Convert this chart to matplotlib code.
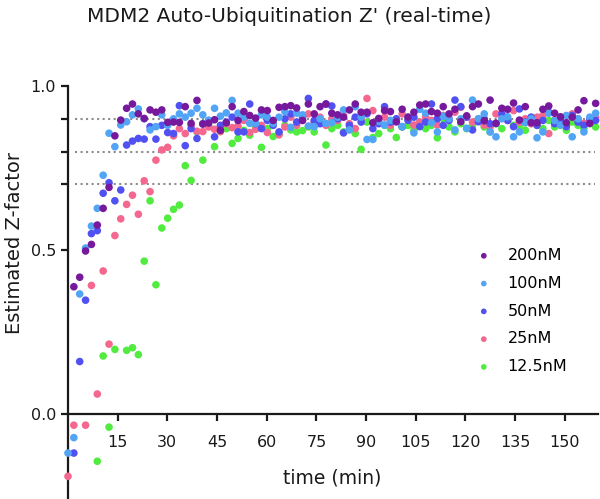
import numpy as np
import matplotlib
matplotlib.use("Agg")
import matplotlib.pyplot as plt

nan = np.nan

# read interval (min) and number of reads
interval = 1.77
n_reads = 91
time = interval * np.arange(n_reads)

labels = ["200nM", "100nM", "50nM", "25nM", "12.5nM"]
colors = ["#76199c", "#52a4f4", "#5151f2", "#f4688f", "#52ec41"]

z_200 = [nan, 0.388, 0.417, 0.497, 0.517, 0.576, 0.627, 0.691, 0.848, 0.896,
         0.932, 0.945, 0.915, 0.901, 0.927, 0.920, 0.927, 0.889, 0.890, 0.889,
         0.937, 0.886, 0.956, 0.884, 0.887, 0.897, 0.865, 0.888, 0.937, 0.895,
         0.922, 0.910, 0.902, 0.927, 0.925, 0.895, 0.935, 0.937, 0.940, 0.933,
         0.895, 0.945, 0.915, 0.937, 0.945, 0.917, 0.912, 0.905, 0.927, 0.945,
         0.920, 0.920, 0.888, 0.901, 0.925, 0.922, 0.891, 0.929, 0.905, 0.920,
         0.942, 0.945, 0.922, 0.917, 0.937, 0.915, 0.929, 0.891, 0.909, 0.937,
         0.945, 0.894, 0.957, 0.886, 0.932, 0.929, 0.948, 0.896, 0.937, 0.888,
         0.888, 0.929, 0.939, 0.917, 0.906, 0.888, 0.905, 0.927, 0.955, 0.886,
         0.947]

z_100 = [-0.119, -0.072, 0.366, 0.506, 0.573, 0.627, 0.728, 0.856, 0.815, 0.881,
         0.891, 0.912, 0.930, 0.900, 0.866, 0.876, 0.912, 0.880, 0.900, 0.915,
         0.905, 0.917, 0.932, 0.912, 0.895, 0.932, 0.908, 0.918, 0.956, 0.917,
         0.905, 0.886, 0.886, 0.912, 0.905, 0.886, 0.905, 0.922, 0.874, 0.917,
         0.912, 0.878, 0.876, 0.900, 0.886, 0.888, 0.905, 0.927, 0.866, 0.937,
         0.905, 0.837, 0.837, 0.892, 0.881, 0.895, 0.891, 0.876, 0.905, 0.857,
         0.929, 0.917, 0.888, 0.860, 0.908, 0.900, 0.866, 0.900, 0.871, 0.957,
         0.900, 0.915, 0.860, 0.845, 0.900, 0.906, 0.845, 0.860, 0.888, 0.900,
         0.842, 0.860, 0.917, 0.895, 0.881, 0.910, 0.845, 0.900, 0.860, 0.905,
         0.917]

z_50 = [nan, -0.119, 0.160, 0.347, 0.550, 0.559, 0.673, 0.705, 0.650, 0.683,
        0.820, 0.832, 0.840, 0.838, 0.876, 0.838, 0.880, 0.858, 0.855, 0.940,
        0.818, 0.870, 0.840, 0.885, 0.895, 0.845, 0.880, 0.890, 0.905, 0.860,
        0.860, 0.945, 0.885, 0.870, 0.895, 0.880, 0.860, 0.900, 0.915, 0.890,
        0.905, 0.962, 0.895, 0.885, 0.945, 0.939, 0.900, 0.857, 0.880, 0.905,
        0.890, 0.915, 0.870, 0.885, 0.937, 0.890, 0.900, 0.876, 0.895, 0.905,
        0.876, 0.890, 0.945, 0.900, 0.880, 0.895, 0.957, 0.937, 0.905, 0.866,
        0.891, 0.900, 0.885, 0.886, 0.915, 0.895, 0.876, 0.930, 0.890, 0.905,
        0.880, 0.895, 0.920, 0.885, 0.900, 0.876, 0.910, 0.890, 0.880, 0.900,
        0.895]

z_25 = [-0.190, -0.034, nan, -0.034, 0.392, 0.061, 0.436, 0.213, 0.544, 0.595,
        0.639, 0.667, 0.609, 0.711, 0.678, 0.774, 0.805, 0.813, 0.848, 0.870,
        0.855, 0.880, 0.862, 0.861, 0.875, 0.868, 0.861, 0.885, 0.873, 0.878,
        0.895, 0.858, 0.868, 0.880, 0.858, 0.890, 0.851, 0.875, 0.905, 0.880,
        0.895, 0.915, 0.890, 0.905, 0.880, 0.900, 0.895, 0.910, 0.885, 0.870,
        0.900, 0.962, 0.925, 0.890, 0.905, 0.880, 0.895, 0.915, 0.900, 0.881,
        0.890, 0.905, 0.895, 0.881, 0.910, 0.900, 0.920, 0.935, 0.905, 0.890,
        0.900, 0.881, 0.875, 0.915, 0.905, 0.895, 0.925, 0.890, 0.900, 0.885,
        0.905, 0.910, 0.855, 0.895, 0.905, 0.880, 0.915, 0.900, 0.886, 0.895,
        0.905]

z_12 = [nan, nan, nan, nan, nan, -0.144, 0.177, -0.040, 0.197, nan,
        0.194, 0.202, 0.181, 0.466, 0.650, 0.394, 0.567, 0.597, 0.624, 0.637,
        0.757, 0.712, 0.860, 0.774, 0.880, 0.815, 0.861, 0.870, 0.825, 0.840,
        0.865, 0.850, 0.875, 0.813, 0.870, 0.846, 0.855, 0.880, 0.866, 0.860,
        0.864, 0.875, 0.860, 0.890, 0.820, 0.870, 0.880, 0.860, 0.870, 0.855,
        0.807, 0.890, 0.843, 0.855, 0.880, 0.870, 0.843, 0.875, 0.880, 0.866,
        0.890, 0.870, 0.880, 0.842, 0.900, 0.875, 0.860, 0.885, 0.870, 0.880,
        0.895, 0.875, 0.860, 0.885, 0.870, 0.900, 0.880, 0.875, 0.865, 0.890,
        0.880, 0.870, 0.895, 0.875, 0.880, 0.865, 0.890, 0.880, 0.870, 0.885,
        0.875]

series = [z_200, z_100, z_50, z_25, z_12]
thresholds = [0.9, 0.8, 0.7]

fig = plt.figure(figsize=(6, 4.99), dpi=100)
ax = fig.add_axes([0.1133, 0.002, 0.8833, 0.8257])

for th in thresholds:
    ax.plot([2, 159], [th, th], ls=":", lw=1.5, color="#8c8c8c", zorder=1)

# draw low concentrations first so 200nM sits on top
for i in range(len(series) - 1, -1, -1):
    ax.scatter(time, series[i], s=30, color=colors[i], label=labels[i],
               edgecolors="none", zorder=3 + (4 - i), clip_on=False)

ax.set_xlim(0, 160)
ax.set_ylim(-0.256, 1.0)
ax.spines["top"].set_visible(False)
ax.spines["right"].set_visible(False)
ax.spines["bottom"].set_position(("data", 0))
for sp in ["left", "bottom"]:
    ax.spines[sp].set_linewidth(1.6)
    ax.spines[sp].set_color("#1a1a1a")

ax.set_xticks([15, 30, 45, 60, 75, 90, 105, 120, 135, 150])
ax.set_yticks([0.0, 0.5, 1.0])
ax.set_yticklabels(["0.0", "0.5", "1.0"])
ax.set_yticks(thresholds, minor=True)
ax.tick_params(axis="both", which="both", direction="out", length=5,
               width=1.6, color="#1a1a1a", labelsize=11.5, labelcolor="#1a1a1a")
ax.tick_params(axis="x", pad=10)

fig.text(0.482, 0.966, "MDM2 Auto-Ubiquitination Z' (real-time)",
         ha="center", va="center", fontsize=14.5, color="#1a1a1a")
fig.text(0.024, 0.513, "Estimated Z-factor", rotation=90, ha="center",
         va="center", fontsize=14, color="#1a1a1a")
fig.text(0.553, 0.042, "time (min)", ha="center", va="center",
         fontsize=13.5, color="#1a1a1a")

handles, labs = ax.get_legend_handles_labels()
order = [labs.index(l) for l in labels]
ax.legend([handles[j] for j in order], [labs[j] for j in order],
          loc="upper left", bbox_to_anchor=(0.793, 0.503),
          bbox_transform=fig.transFigure, frameon=False, fontsize=11.5,
          markerscale=0.75, handlelength=1.0, handletextpad=1.0,
          labelspacing=0.8, borderpad=0, borderaxespad=0)

plt.savefig("out.png", dpi=100)
plt.close()
